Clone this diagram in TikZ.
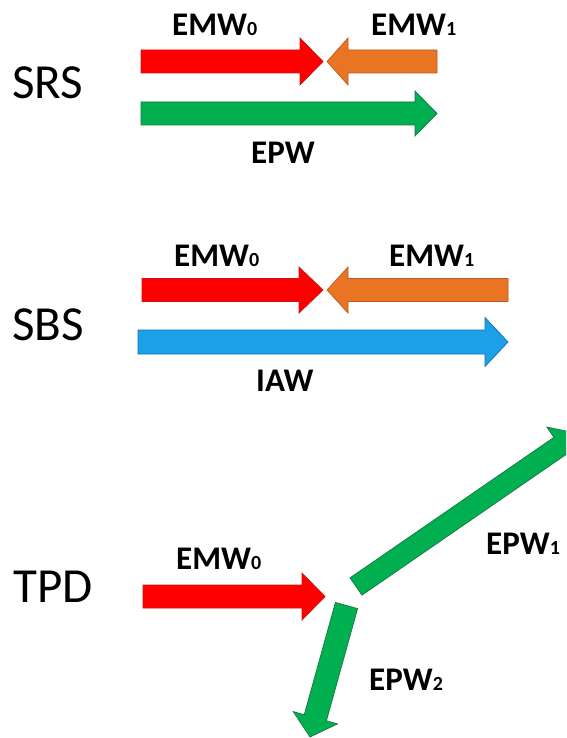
\documentclass[tikz,border=0pt]{standalone}
\usepackage{fontspec}
\setmainfont{Carlito}
\usetikzlibrary{calc}
\definecolor{cred}{RGB}{255,0,0}
\definecolor{credE}{RGB}{200,20,20}
\definecolor{corange}{RGB}{232,116,36}
\definecolor{corangeE}{RGB}{190,90,30}
\definecolor{cgreen}{RGB}{0,176,80}
\definecolor{cgreenE}{RGB}{20,120,60}
\definecolor{cblue}{RGB}{30,160,232}
\definecolor{cblueE}{RGB}{20,110,180}
\newcommand\blockarrow[6]{%
  \coordinate (#2hb) at ($(#3)!#6!(#2)$);
  \filldraw[#1] ($(#2)!#4!90:(#3)$) -- ($(#2hb)!#4!90:(#3)$) -- ($(#2hb)!#5!90:(#3)$) -- (#3)
    -- ($(#2hb)!#5!-90:(#3)$) -- ($(#2hb)!#4!-90:(#3)$) -- ($(#2)!#4!-90:(#3)$) -- cycle;
}
\newcommand\subd[1]{{\fontsize{20}{20}\selectfont #1}}
\tikzset{
  arr/.style={line width=0.7pt, line join=miter},
  redarr/.style={arr, fill=cred, draw=credE},
  orarr/.style={arr, fill=corange, draw=corangeE},
  grarr/.style={arr, fill=cgreen, draw=cgreenE},
  blarr/.style={arr, fill=cblue, draw=cblueE},
  biglab/.style={inner sep=0pt, anchor=base west, font=\fontsize{49}{50}\selectfont},
  wlab/.style={inner sep=0pt, anchor=base west, font=\fontsize{33}{35}\selectfont\bfseries},
}
\begin{document}
\begin{tikzpicture}[x=1pt,y=-1pt]
\useasboundingbox (0,0) rectangle (566,738);
\fill[white] (0,0) rectangle (566,738);
\clip (0,0) rectangle (566,738);
% SRS
\coordinate (r1t) at (141,61.5); \coordinate (r1p) at (323,61.5);
\coordinate (o1t) at (437,61.5); \coordinate (o1p) at (327,61.5);
\coordinate (g1t) at (141,113.5); \coordinate (g1p) at (437,113.5);
\blockarrow{redarr}{r1t}{r1p}{11.5pt}{23.5pt}{23pt}
\blockarrow{orarr}{o1t}{o1p}{11.5pt}{23.5pt}{21pt}
\blockarrow{grarr}{g1t}{g1p}{11.5pt}{22.5pt}{22pt}
\node[biglab] (srs) at (12,99) {SRS};
\node[wlab] (srsemw0) at (172,36) {EMW\subd{0}};
\node[wlab] (srsemw1) at (371,36) {EMW\subd{1}};
\node[wlab] (srsepw) at (251,164) {EPW};
% SBS
\coordinate (r2t) at (142,290); \coordinate (r2p) at (323,290);
\coordinate (o2t) at (508,290); \coordinate (o2p) at (327,290);
\coordinate (b2t) at (138,342); \coordinate (b2p) at (508,342);
\blockarrow{redarr}{r2t}{r2p}{11.5pt}{23pt}{24pt}
\blockarrow{orarr}{o2t}{o2p}{11.5pt}{23pt}{21pt}
\blockarrow{blarr}{b2t}{b2p}{12pt}{24.5pt}{23pt}
\node[biglab] (sbs) at (12,340) {SBS};
\node[wlab] (sbsemw0) at (174,266) {EMW\subd{0}};
\node[wlab] (sbsemw1) at (389,266) {EMW\subd{1}};
\node[wlab] (sbsiaw) at (256,391) {IAW};
% TPD
\coordinate (r3t) at (143,596.5); \coordinate (r3p) at (325,596.5);
\coordinate (g3at) at (356,586.5); \coordinate (g3ap) at (578,433.5);
\coordinate (g3bt) at (346.5,605.5); \coordinate (g3bp) at (310,737);
\blockarrow{redarr}{r3t}{r3p}{11.5pt}{23.5pt}{23pt}
\blockarrow{grarr}{g3at}{g3ap}{10.5pt}{23pt}{22pt}
\blockarrow{grarr}{g3bt}{g3bp}{11.5pt}{23pt}{20pt}
\node[biglab] (tpd) at (13,602) {TPD};
\node[wlab] (tpdemw0) at (176,569) {EMW\subd{0}};
\node[wlab] (tpdepw1) at (486,554) {EPW\subd{1}};
\node[wlab] (tpdepw2) at (369,690) {EPW\subd{2}};
\end{tikzpicture}
\end{document}
